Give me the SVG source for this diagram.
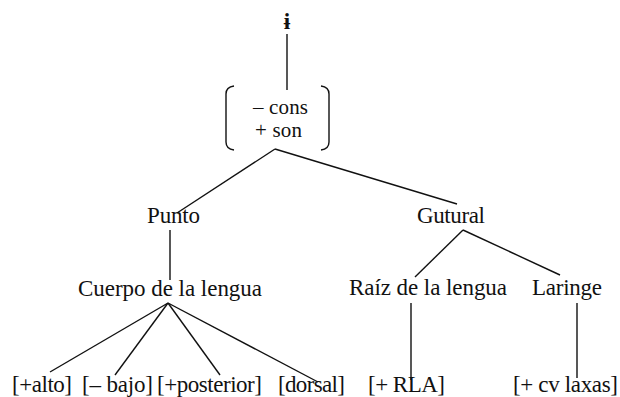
<svg xmlns="http://www.w3.org/2000/svg" width="620" height="397" viewBox="0 0 620 397">
<style>
.c line,.c path{stroke:#111;stroke-width:1.4;fill:none}
</style>
<rect width="620" height="397" fill="#fff"/>
<g class="c" id="connectors">
<line x1="287" y1="34" x2="287" y2="90"/>
<line x1="275" y1="149" x2="177" y2="213"/>
<line x1="275" y1="149" x2="457" y2="204"/>
<line x1="170" y1="230" x2="170" y2="280"/>
<line x1="168" y1="303" x2="50" y2="372"/>
<line x1="168" y1="303" x2="115" y2="375"/>
<line x1="168" y1="303" x2="220" y2="375"/>
<line x1="168" y1="303" x2="318" y2="382"/>
<line x1="463" y1="230" x2="415" y2="277"/>
<line x1="463" y1="230" x2="560" y2="275"/>
<line x1="411" y1="303" x2="411" y2="380"/>
<line x1="577" y1="303" x2="577" y2="378"/>
</g>
<g id="matrix" class="c">
<path d="M234,86 Q226,87 226,94 L226,142 Q226,149 234,150"/>
<path d="M321,86 Q329,87 329,94 L329,142 Q329,149 321,150"/>
</g>
<g id="top"><text x="287" y="29" text-anchor="middle" font-family="Liberation Serif, serif" font-size="23" font-weight="bold" fill="#111">&#x268;</text></g>
<g id="feat-cons"><text x="253" y="114" font-family="Liberation Serif, serif" font-size="21" fill="#111" textLength="55">&#x2013; cons</text></g>
<g id="feat-son"><text x="255" y="137" font-family="Liberation Serif, serif" font-size="21" fill="#111" textLength="47">+ son</text></g>
<g id="punto"><text x="147" y="223" font-family="Liberation Serif, serif" font-size="23" fill="#111" textLength="53">Punto</text></g>
<g id="gutural"><text x="417" y="223" font-family="Liberation Serif, serif" font-size="23" fill="#111" textLength="68">Gutural</text></g>
<g id="cuerpo"><text x="78" y="296" font-family="Liberation Serif, serif" font-size="23" fill="#111" textLength="184">Cuerpo de la lengua</text></g>
<g id="raiz"><text x="349" y="295" font-family="Liberation Serif, serif" font-size="23" fill="#111" textLength="158">Ra&#xED;z de la lengua</text></g>
<g id="laringe"><text x="532" y="295" font-family="Liberation Serif, serif" font-size="23" fill="#111" textLength="70">Laringe</text></g>
<g id="alto"><text x="12" y="392" font-family="Liberation Serif, serif" font-size="23" fill="#111" textLength="60">[+alto]</text></g>
<g id="bajo"><text x="82" y="392" font-family="Liberation Serif, serif" font-size="23" fill="#111" textLength="71">[&#x2013; bajo]</text></g>
<g id="posterior"><text x="157" y="392" font-family="Liberation Serif, serif" font-size="23" fill="#111" textLength="105">[+posterior]</text></g>
<g id="dorsal"><text x="278" y="392" font-family="Liberation Serif, serif" font-size="23" fill="#111" textLength="67">[dorsal]</text></g>
<g id="rla"><text x="368" y="392" font-family="Liberation Serif, serif" font-size="23" fill="#111" textLength="77">[+ RLA]</text></g>
<g id="laxas"><text x="513" y="392" font-family="Liberation Serif, serif" font-size="23" fill="#111" textLength="105">[+ cv laxas]</text></g>
</svg>
